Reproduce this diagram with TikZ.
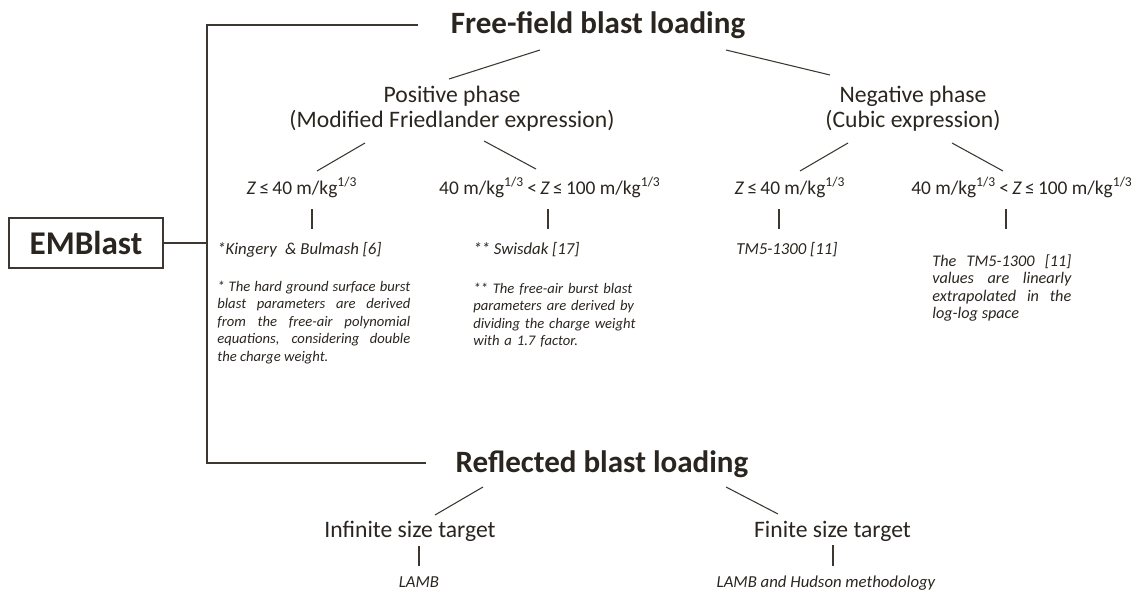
\documentclass[tikz,border=0pt]{standalone}
\usepackage{fontspec}
\setmainfont{Carlito}
\usepackage{tikz}
\usetikzlibrary{calc}
\definecolor{ink}{RGB}{42,37,31}
\definecolor{rulec}{RGB}{60,55,48}

\begin{document}
\begin{tikzpicture}[x=0.567pt,y=-0.567pt,
  txt/.style={inner sep=0pt,text=ink},
  head/.style={txt,font=\fontsize{17.6}{20}\selectfont\bfseries,anchor=base},
  phase/.style={txt,font=\fontsize{13.4}{14.7}\selectfont,align=center,anchor=base},
  cond/.style={txt,font=\fontsize{11}{13}\selectfont,anchor=base},
  refer/.style={txt,font=\fontsize{9.5}{11}\selectfont\itshape,anchor=base west},
  note/.style={txt,font=\fontsize{8.3}{10}\selectfont\itshape,anchor=base west},
  link/.style={draw=rulec,line width=0.6pt}]
  \useasboundingbox (0,0) rectangle (1134,594);

  % main box
  \node[draw=rulec,line width=0.8pt,inner sep=0pt,text=ink,
        minimum width=87.3pt,minimum height=28.4pt,
        font=\fontsize{18.8}{20}\selectfont\bfseries] (emb) at (86,243) {EMBlast};

  % the two loading types
  \node[head] (ff) at (598,34) {Free-field blast loading};
  \node[head] (rf) at (602,472) {Reflected blast loading};

  % bracket
  \coordinate (ffl) at (418,25);
  \coordinate (rfl) at (426,463);
  \coordinate (brk) at (207,243);
  \draw[link] (ffl) -| (brk) |- (rfl);
  \draw[link] (emb.east) -- (brk);

  % free-field: phases (base = last line)
  \node[phase] (pos) at (452,128) {Positive phase\\(Modified Friedlander expression)};
  \node[phase] (neg) at (913,128) {Negative phase\\(Cubic expression)};

  % scaled distance ranges
  \node[cond] (pz1) at (302,194) {\textit{Z}\,≤\,40 m/kg\textsuperscript{1/3}};
  \node[cond] (pz2) at (550,194) {40 m/kg\textsuperscript{1/3}\,<\,\textit{Z}\,≤\,100 m/kg\textsuperscript{1/3}};
  \node[cond] (nz1) at (790,194) {\textit{Z}\,≤\,40 m/kg\textsuperscript{1/3}};
  \node[cond] (nz2) at (1022,194) {40 m/kg\textsuperscript{1/3}\,<\,\textit{Z}\,≤\,100 m/kg\textsuperscript{1/3}};

  % sources
  \node[refer] (kb) at (217,254) {*Kingery\enspace\& Bulmash [6]};
  \node[refer] (sw) at (473,254) {** Swisdak [17]};
  \node[refer] (tm) at (736,254) {TM5-1300 [11]};

  \node[note,text width=109.4pt,align=justify] (kbn) at (217,291)
    {* The hard ground surface burst\linebreak blast parameters are derived\linebreak
     from the free-air polynomial\linebreak equations, considering double\linebreak
     the charge weight.};
  \node[note,text width=95pt,align=left] (swn) at (473,293)
    {** The free-air burst blast\\parameters are derived by\\dividing the charge weight\\with a 1.7 factor.};
  \node[note,font=\fontsize{9.2}{10}\selectfont\itshape,text width=78.8pt,align=justify] (tmn) at (932,266)
    {The TM5-1300 [11]\linebreak values are linearly\linebreak extrapolated in the\linebreak log-log space};

  % reflected: target size
  \node[phase] (inf) at (410,537) {Infinite size target};
  \node[phase] (fin) at (832.5,537) {Finite size target};
  \node[refer,anchor=base] (lamb) at (419,587) {LAMB};
  \node[refer,anchor=base] (hud) at (826,587) {LAMB and Hudson methodology};

  % connector ends
  \coordinate (c1a) at (540,50);  \coordinate (c1b) at (449,79);
  \coordinate (c2a) at (726,50);  \coordinate (c2b) at (830,75);
  \coordinate (c3a) at (365,143); \coordinate (c3b) at (317,171);
  \coordinate (c4a) at (484,141); \coordinate (c4b) at (536,169);
  \coordinate (c5a) at (848,143); \coordinate (c5b) at (800,171);
  \coordinate (c6a) at (952,143); \coordinate (c6b) at (1003,171);
  \coordinate (c7a) at (483,487); \coordinate (c7b) at (435,515);
  \coordinate (c8a) at (726,487); \coordinate (c8b) at (778,514);
  \foreach \i in {1,...,8}
    \draw[link] (c\i a) -- (c\i b);

  % short ticks
  \foreach \x/\n in {312/t1,548/t2,779/t3,1006/t4}{
    \coordinate (\n a) at (\x,209);
    \coordinate (\n b) at (\x,229);
    \draw[link] (\n a) -- (\n b);
  }
  \coordinate (t5a) at (419,546); \coordinate (t5b) at (419,566);
  \coordinate (t6a) at (833,545); \coordinate (t6b) at (833,566);
  \draw[link] (t5a) -- (t5b);
  \draw[link] (t6a) -- (t6b);
\end{tikzpicture}
\end{document}
